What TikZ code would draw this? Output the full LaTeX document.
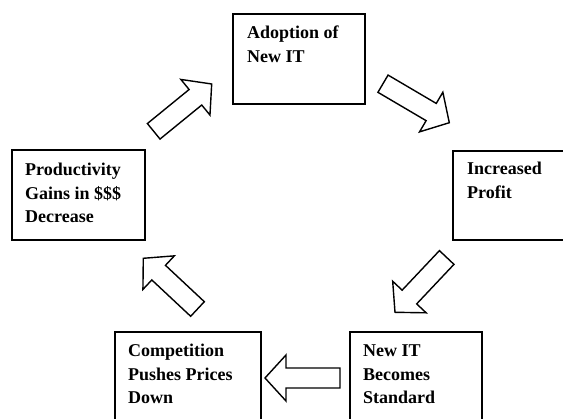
\documentclass[tikz,border=0pt]{standalone}
\usepackage{fontspec}
\setmainfont{Liberation Serif}
\usetikzlibrary{calc}
\tikzset{
  box/.style={draw, line width=1.8pt, rectangle, inner sep=0pt, outer sep=0pt},
  lbl/.style={anchor=base west, inner sep=0pt, font=\fontsize{18}{23.5}\selectfont\bfseries},
  barrow/.style={draw, line width=1.4pt, fill=white, line join=miter},
}
\newcommand\blockarr[2]{%
  \coordinate (hb) at ($(#2)!21pt!(#1)$);
  \draw[barrow] ($(#1)!10pt!90:(#2)$) -- ($(hb)!10pt!90:(#2)$) -- ($(hb)!23pt!90:(#2)$) -- (#2)
    -- ($(hb)!23pt!-90:(#2)$) -- ($(hb)!10pt!-90:(#2)$) -- ($(#1)!10pt!-90:(#2)$) -- cycle;}
\newcommand\lines[1]{\parbox[t]{160pt}{\raggedright #1}}
\begin{document}
\begin{tikzpicture}[x=1pt,y=-1pt]
  \fill[white] (0,0) rectangle (563,419);
  \clip (0,0) rectangle (563,419);
  % boxes
  \node[box, minimum width=132pt, minimum height=90pt] (adopt) at (299,59) {};
  \node[box, minimum width=133pt, minimum height=90pt] (prod) at (78.5,195) {};
  \node[box, minimum width=133pt, minimum height=89pt] (profit) at (519.5,195.5) {};
  \node[box, minimum width=146pt, minimum height=90pt] (comp) at (188,377) {};
  \node[box, minimum width=132pt, minimum height=90pt] (std) at (416,377) {};
  % labels
  \node[lbl] (adopt-t) at ($(adopt.north west)+(14,25)$) {\lines{Adoption of\\New IT}};
  \node[lbl] (prod-t) at ($(prod.north west)+(13,26)$) {\lines{Productivity\\Gains in \$\$\$\\Decrease}};
  \node[lbl] (profit-t) at ($(profit.north west)+(14,24)$) {\lines{Increased\\Profit}};
  \node[lbl] (comp-t) at ($(comp.north west)+(13,25)$) {\lines{Competition\\Pushes Prices\\Down}};
  \node[lbl] (std-t) at ($(std.north west)+(13,25)$) {\lines{New IT\\Becomes\\Standard}};
  % arrow end points
  \coordinate (a1) at (153.7,131.3); \coordinate (b1) at (211.7,84);
  \coordinate (a2) at (383,83.7);    \coordinate (b2) at (449.3,122.7);
  \coordinate (a3) at (446.7,257.5); \coordinate (b3) at (395,312.3);
  \coordinate (a4) at (340,378);     \coordinate (b4) at (265,378);
  \coordinate (a5) at (197.5,309);   \coordinate (b5) at (143.3,258.3);
  \blockarr{a1}{b1}
  \blockarr{a2}{b2}
  \blockarr{a3}{b3}
  \blockarr{a4}{b4}
  \blockarr{a5}{b5}
\end{tikzpicture}
\end{document}
